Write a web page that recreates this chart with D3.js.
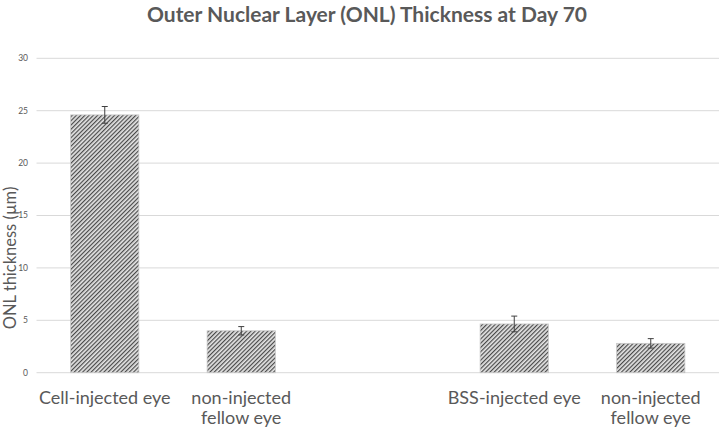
<!DOCTYPE html>
<html><head><meta charset="utf-8">
<script src="https://cdn.jsdelivr.net/npm/d3@7"></script>
<style>body{margin:0;background:#fff}svg{display:block;font-family:Lato,"Open Sans",sans-serif}</style>
</head><body><svg id="c" width="719" height="432"></svg>
<script>
const categories = ["Cell-injected eye", "non-injected\nfellow eye", "", "BSS-injected eye", "non-injected\nfellow eye"];
const values = [24.6, 4.0, null, 4.65, 2.8];
const errors = [0.8, 0.4, null, 0.75, 0.45];
const yTicks = [0, 5, 10, 15, 20, 25, 30];
const title = "Outer Nuclear Layer (ONL) Thickness at Day 70";
const yTitle = "ONL thickness (µm)";

const svg = d3.select("#c");
const W = 719, H = 432;
const m = {left: 36.5, right: 0, top: 58.3, bottom: 432 - 372.7};
const x = d3.scaleBand().domain(d3.range(categories.length)).range([m.left, W - m.right]).paddingInner(0.5).paddingOuter(0.25);
const y = d3.scaleLinear().domain([0, 30]).range([H - m.bottom, m.top]);

const defs = svg.append("defs");
const pat = defs.append("pattern").attr("id","hatch").attr("patternUnits","userSpaceOnUse")
  .attr("width",3).attr("height",3).attr("patternTransform","rotate(45)");
pat.append("rect").attr("width",3).attr("height",3).attr("fill","#e4e4e4");
pat.append("rect").attr("width",1.2).attr("height",3).attr("fill","#4a4a4a");

// gridlines
svg.append("g").selectAll("line").data(yTicks).join("line")
  .attr("x1", m.left).attr("x2", W).attr("y1", d=>y(d)).attr("y2", d=>y(d))
  .attr("stroke","#d9d9d9").attr("stroke-width",1);
// tick labels
svg.append("g").selectAll("text").data(yTicks).join("text")
  .attr("x", 28).attr("y", d=>y(d)).attr("dy","0.35em").attr("text-anchor","end")
  .attr("font-size",8.5).attr("fill","#595959").text(d=>d);

const data = categories.map((c,i)=>({i, c, v: values[i], e: errors[i]})).filter(d=>d.v!=null);
svg.append("g").selectAll("rect").data(data).join("rect")
  .attr("x", d=>x(d.i)).attr("width", x.bandwidth())
  .attr("y", d=>y(d.v)).attr("height", d=>y(0)-y(d.v))
  .attr("fill","url(#hatch)").attr("stroke","#c8c8c8").attr("stroke-width",0.8);

// error bars
const eg = svg.append("g").attr("stroke","#404040").attr("stroke-width",1);
data.forEach(d=>{
  const cx = x(d.i) + x.bandwidth()/2;
  eg.append("line").attr("x1",cx).attr("x2",cx).attr("y1",y(d.v+d.e)).attr("y2",y(d.v-d.e));
  eg.append("line").attr("x1",cx-3).attr("x2",cx+3).attr("y1",y(d.v+d.e)).attr("y2",y(d.v+d.e));
  eg.append("line").attr("x1",cx-3).attr("x2",cx+3).attr("y1",y(d.v-d.e)).attr("y2",y(d.v-d.e));
});

// x labels
const xl = svg.append("g").attr("font-size",18).attr("fill","#595959").attr("text-anchor","middle");
categories.forEach((c,i)=>{
  if(!c) return;
  const t = xl.append("text").attr("x", x(i)+x.bandwidth()/2).attr("y", 404);
  c.split("\n").forEach((line,k)=>{
    t.append("tspan").attr("x", x(i)+x.bandwidth()/2).attr("dy", k?20:0).text(line);
  });
});

// title
svg.append("text").attr("x", 367).attr("y", 22).attr("text-anchor","middle")
  .attr("font-size",21).attr("font-weight","bold").attr("fill","#595959").text(title);
// y title
svg.append("text").attr("transform","translate(15.5,258) rotate(-90)").attr("text-anchor","middle")
  .attr("font-size",16.5).attr("fill","#595959").text(yTitle);
</script></body></html>
